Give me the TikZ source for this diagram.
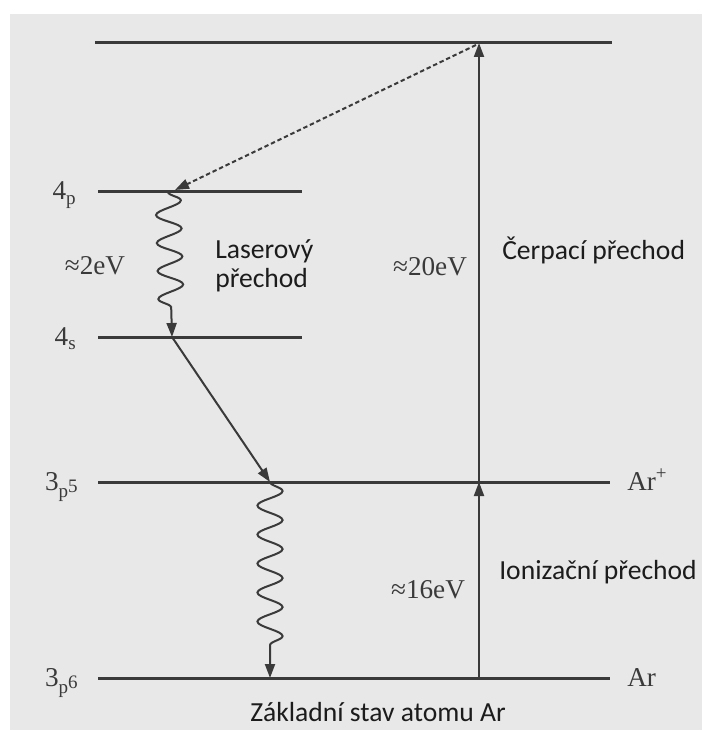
\documentclass[tikz,border=0pt]{standalone}
\usepackage{fontspec}
\setmainfont{Carlito}
\newfontfamily\tms{Liberation Serif}
\usetikzlibrary{arrows.meta,decorations.pathmorphing}
\definecolor{bg}{HTML}{E8E8E8}
\definecolor{ink}{HTML}{3A3A3A}
\definecolor{txt}{HTML}{1C1C1C}
\tikzset{every path/.style={semithick}}
\tikzset{
  level/.style={draw=ink,line width=1.5pt},
  trans/.style={draw=ink,line width=1pt,-{Triangle[length=7pt,width=5pt]}},
  wave/.style={trans,decorate,decoration={snake,amplitude=6.3pt,segment length=14.5pt,post length=10pt}},
  sym/.style={font=\tms\fontsize{13.6}{15}\selectfont,text=ink},
  word/.style={font=\fontsize{13.8}{15.5}\selectfont,text=txt,align=left}
}

\begin{document}
\begin{tikzpicture}[x=0.5pt,y=-0.5pt]
    \useasboundingbox (0,0) rectangle (702,731);
    \fill[bg] (10,14) rectangle (702,730);

    \draw[level] (95,43) coordinate (topL) -- (612,43) coordinate (topR);
    \draw[level] (98,192) coordinate (pL) -- (302,192) coordinate (pR);
    \draw[level] (98,337) coordinate (sL) -- (302,337) coordinate (sR);
    \draw[level] (98,482) coordinate (ionL) -- (610,482) coordinate (ionR);
    \draw[level] (98,678) coordinate (gndL) -- (610,678) coordinate (gndR);

    \node[sym,anchor=base east] (n4p) at (84,200) {4\textsubscript{p}};
    \node[sym,anchor=base east] (n4s) at (84,345) {4\textsubscript{s}};
    \node[sym,anchor=base east] (n3p5) at (86,490) {3\textsubscript{p\raisebox{.25em}{5}}};
    \node[sym,anchor=base east] (n3p6) at (86,686) {3\textsubscript{p\raisebox{.25em}{6}}};
    \node[sym,anchor=base west] (nArp) at (620,490) {Ar\textsuperscript{+}};
    \node[sym,anchor=base west] (nAr) at (620,686) {Ar};

    \coordinate (pumpT) at (479,43);
    \coordinate (pumpM) at (479,482);
    \coordinate (pumpB) at (479,678);
    \coordinate (dashT) at (476,45);
    \coordinate (dashB) at (175,190);
    \coordinate (laserT) at (168,192);
    \coordinate (laserB) at (172,337);
    \coordinate (dropB) at (270,482);
    \coordinate (relaxB) at (270,678);

    \draw[trans] (pumpB) -- (pumpM);
    \draw[trans] (pumpM) -- (pumpT);
    \draw[trans,dash pattern=on 2.2pt off 1.4pt] (dashT) -- (dashB);
    \draw[wave,decoration={segment length=14pt}] (laserT) -- (laserB);
    \draw[trans] (laserB) -- (dropB);
    \draw[wave] (dropB) -- (relaxB);

    \node[sym] (e2) at (95,266) {≈2eV};
    \node[sym] (e20) at (430,267) {≈20eV};
    \node[sym] (e16) at (428,590) {≈16eV};

    \node[word,anchor=west] (laser) at (208,266) {Laserový\\[-1pt]přechod};
    \node[word,anchor=west] (cerp) at (495,250) {Čerpací přechod};
    \node[word,anchor=west] (ioniz) at (492,572) {Ionizační přechod};
    \node[word] (zaklad) at (378,712) {Základní stav atomu Ar};
\end{tikzpicture}
\end{document}
